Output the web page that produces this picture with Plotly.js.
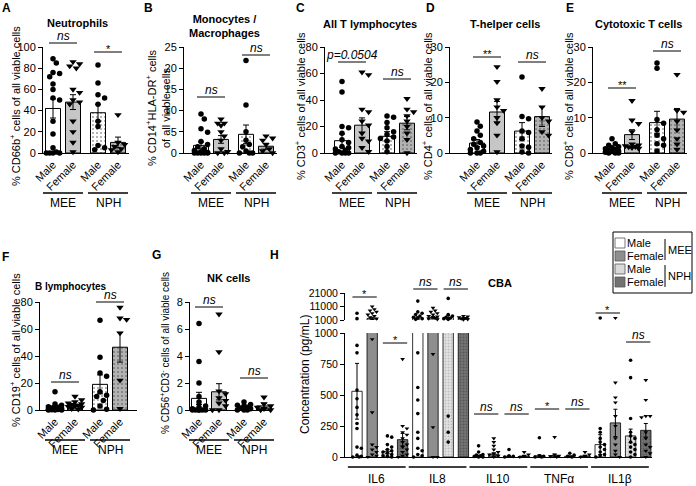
<!DOCTYPE html>
<html><head><meta charset="utf-8">
<script src="https://cdn.plot.ly/plotly-3.0.1.min.js"></script>
<style>html,body{margin:0;padding:0;background:#fff}#chart{width:696px;height:486px}</style>
</head><body><div id="chart"></div>
<script>
// ================= DATA =================
const sexLabels = ['Male', 'Female', 'Male', 'Female'];
const cohortLabels = ['MEE', 'NPH'];

// A  Neutrophils (% CD66b+)
const neutroMean = [42, 48, 38, 10];
const neutroSem = [9, 7, 8, 5];
const neutroMeeMale = [89, 85, 76, 75, 72, 65, 60, 52, 50, 30, 18, 5, 1, 0, 0, 0, 0];
const neutroMeeFemale = [86, 84, 82, 80, 60, 57, 50, 48, 46, 30, 20, 10, 1];
const neutroNphMale = [83, 66, 55, 52, 46, 30, 25, 7, 5, 3];
const neutroNphFemale = [36, 10, 8, 6, 4, 3, 1];

// B  Monocytes / Macrophages (% CD14+HLA-DR+)
const monoMean = [1.8, 3.2, 4.4, 1.6];
const monoSem = [0.8, 0.9, 2.2, 0.7];
const monoMeeMale = [9.2, 8, 5.7, 4.9, 2.7, 2, 1.5, 1, 0.6, 0.3, 0.1, 0, 0, 0, 0, 0];
const monoMeeFemale = [8, 7, 7, 6.5, 5, 4, 3, 1, 0.3, 0, 0];
const monoNphMale = [21.8, 11.3, 5, 3, 2, 1.5, 0.5, 0, 0, 0];
const monoNphFemale = [4, 3.5, 3, 2, 1, 0.5, 0];

// C  All T lymphocytes (% CD3+)
const tcellMean = [9.3, 21, 12.6, 22.5];
const tcellSem = [5, 5.5, 3.5, 5];
const tcellMeeMale = [54, 46, 20, 19, 15, 10, 8, 5, 4, 3, 2, 1, 0, 0, 0, 0];
const tcellMeeFemale = [61, 59, 33, 31, 24, 21, 15, 11, 9, 4, 1];
const tcellNphMale = [28, 27, 23, 19, 16, 14, 12, 11, 9, 5, 1];
const tcellNphFemale = [41, 33, 31, 28, 24, 20, 15, 10, 0];

// D  T-helper cells (% CD4+)
const thMean = [2.8, 11.6, 6.2, 10.3];
const thSem = [1, 3, 2.4, 2.8];
const thMeeMale = [8.8, 7.6, 6.2, 5, 4, 3, 2.5, 2, 1.5, 1, 0.5, 0, 0, 0];
const thMeeFemale = [24.4, 20.2, 15, 13, 12, 10, 8.5, 5, 0.3];
const thNphMale = [21.5, 10.3, 9.7, 6.2, 5.8, 4, 2, 1.6, 0.3, 0];
const thNphFemale = [18.2, 13, 10, 9, 6, 5];

// E  Cytotoxic T cells (% CD8+)
const ctlMean = [0.9, 5.2, 8.6, 9.6];
const ctlSem = [0.4, 1.4, 3.2, 3];
const ctlMeeMale = [4, 2.6, 2.2, 1.8, 1.5, 1.2, 1, 0.8, 0.6, 0.4, 0.2, 0, 0, 0];
const ctlMeeFemale = [14.8, 9.3, 8.3, 6, 2.5, 2.2, 2, 1.8, 1.7, 1.5, 1.3];
const ctlNphMale = [25.5, 24, 9.5, 8.4, 6.6, 5, 4, 2.6, 2.2, 0.6];
const ctlNphFemale = [22.2, 12, 11.5, 9, 6.5, 4, 2.5, 1];

// F  B lymphocytes (% CD19+)
const bcellMean = [2, 3.3, 19, 46.5];
const bcellSem = [1.2, 1, 7, 11];
const bcellMeeMale = [13.5, 4.5, 3.5, 2.5, 2, 1.5, 1.2, 1, 0.6, 0.4, 0.2, 0, 0, 0];
const bcellMeeFemale = [10, 7.5, 6, 5, 4.5, 4, 3.5, 3, 2.5, 2, 1, 0.5];
const bcellNphMale = [66.5, 39, 27.5, 25, 13.5, 11, 10, 7, 3, 0.5, 0];
const bcellNphFemale = [76, 68, 67, 57, 22, 1];

// G  NK cells (% CD56+CD3-)
const nkMean = [0.86, 1.35, 0.12, 0.3];
const nkSem = [0.45, 0.6, 0.07, 0.2];
const nkMeeMale = [6.4, 3.6, 2, 1, 0.6, 0.3, 0.2, 0.1, 0, 0, 0, 0, 0, 0];
const nkMeeFemale = [7.1, 4.3, 1.4, 1.2, 0.9, 0.7, 0.5, 0.3, 0, 0];
const nkNphMale = [0.6, 0.4, 0.35, 0.3, 0.2, 0.15, 0.1, 0, 0, 0];
const nkNphFemale = [0.95, 0.45, 0.3, 0.2, 0.1, 0, 0];

// H  CBA (pg/mL)
const cbaCytokines = ['IL6', 'IL8', 'IL10', 'TNFα', 'IL1β'];
const cbaLowTicks = [0, 250, 500, 750, 1000];
const cbaHighTicks = [1000, 11000, 21000];
const cbaMeeMaleMean = [530, 2500, 10, 10, 100];
const cbaMeeFemaleMean = [2200, 3000, 22, 12, 275];
const cbaNphMaleMean = [45, 2800, 6, 6, 170];
const cbaNphFemaleMean = [140, 2300, 8, 9, 215];
const cbaMeeMaleSem = [225, 900, 5, 8, 80];
const cbaMeeFemaleSem = [800, 700, 8, 10, 110];
const cbaNphMaleSem = [15, 1500, 4, 3, 55];
const cbaNphFemaleSem = [50, 400, 4, 4, 55];

const il6MeeMale = [6000, 2000, 900, 840, 540, 470, 400, 340, 270, 230, 80, 70, 15, 5, 0, 0];
const il6MeeFemale = [11000, 9000, 8000, 7000, 6000, 5000, 4000, 3000, 2000, 950, 360, 100, 80, 60, 40, 20, 10, 0];
const il6NphMale = [170, 160, 100, 80, 60, 50, 40, 30, 20, 10, 5, 0];
const il6NphFemale = [790, 250, 230, 200, 180, 150, 120, 100, 80, 60, 40, 20, 10, 0];
const il8MeeMale = [15000, 7000, 6000, 5000, 4000, 3000, 2500, 2000, 1500, 840, 560, 460, 350, 200, 150, 70, 50, 20, 10, 0];
const il8MeeFemale = [10000, 8000, 7000, 6000, 5000, 4000, 3500, 3000, 2500, 2000, 1500, 830, 240, 0, 0];
const il8NphMale = [17000, 5000, 4000, 3000, 2500, 2000, 1500, 330, 200, 120];
const il8NphFemale = [4000, 3500, 3000, 2500, 2000, 1500, 1200];
const il10MeeMale = [90, 40, 20, 15, 10, 5, 0, 0];
const il10MeeFemale = [150, 120, 90, 60, 40, 30, 20, 10, 0];
const il10NphMale = [60, 10, 5, 0];
const il10NphFemale = [40, 20, 10, 0];
const tnfMeeMale = [155, 10, 5, 0, 0];
const tnfMeeFemale = [160, 20, 10, 5, 0];
const tnfNphMale = [30, 15, 5, 0];
const tnfNphFemale = [40, 20, 10, 0];
const il1bMeeMale = [2500, 230, 200, 150, 120, 100, 80, 60, 40, 20, 10, 0];
const il1bMeeFemale = [2500, 600, 480, 440, 330, 250, 150, 100, 50, 20, 0];
const il1bNphMale = [780, 640, 310, 200, 170, 150, 120, 100, 80, 60, 40, 20, 0];
const il1bNphFemale = [620, 460, 330, 330, 320, 200, 150, 100, 80, 50, 30, 0];

// ================= RENDERING =================
const W = 696, H = 486;
const FONT = 'Arial, "Liberation Sans", Helvetica, sans-serif';
const PX = p => p / W, PY = p => 1 - p / H;
const catPos = [0, 1, 2.25, 3.25];

const traces = [];
const layout = {
  width: W, height: H, margin: {l: 0, r: 0, t: 0, b: 0},
  paper_bgcolor: '#fff', plot_bgcolor: 'rgba(0,0,0,0)', showlegend: false,
  font: {family: FONT, size: 11, color: '#000'},
  annotations: [], shapes: [], barmode: 'overlay'
};

function ann(text, x, y, o) {
  o = o || {};
  return {text, x: PX(x), y: PY(y), xref: 'paper', yref: 'paper', showarrow: false,
    xanchor: o.xanchor || 'center', yanchor: o.yanchor || 'middle', textangle: o.angle || 0,
    align: o.align || 'center',
    font: {family: FONT, size: o.size || 11, color: '#000', weight: o.bold ? 'bold' : 'normal', style: o.italic ? 'italic' : 'normal'}};
}
function line(x0, y0, x1, y1, w) {
  return {type: 'line', xref: 'paper', yref: 'paper', x0: PX(x0), y0: PY(y0), x1: PX(x1), y1: PY(y1),
    line: {color: '#000', width: w || 1}};
}

// beeswarm style horizontal spreading (pixel space), returns data x
function swarm(vals, center, unitPx, pxPerVal, diam, maxHalf) {
  const idx = vals.map((v, i) => i).sort((a, b) => vals[b] - vals[a]);
  const placed = [], out = new Array(vals.length);
  const step = diam * 0.6;
  const cands = [0];
  for (let k = 1; k * step <= maxHalf; k++) { cands.push(k * step, -k * step); }
  idx.forEach((i) => {
    const y = vals[i] * pxPerVal;
    let best = null, bestD = -1;
    for (const c of cands) {
      let md = Infinity;
      for (const p of placed) { md = Math.min(md, Math.hypot(p.x - c, p.y - y)); }
      if (md >= diam * 0.95) { best = c; bestD = md; break; }
      if (md > bestD) { bestD = md; best = c; }
    }
    placed.push({x: best, y});
    out[i] = center + best / unitPx;
  });
  return out;
}

const barFill = ['#ffffff', '#c6c6c6', '#ffffff', '#b2b2b2'];
const barPat = ['', '', '.', '.'];

const panels = [
  {letter: 'A', lx: 6, ly: 8, title: 'Neutrophils', tx: 77, ty: 23, ytitle: '% CD66b<sup>+</sup> cells of all viable cells', ytx: 15, yty: 106,
   x0: 43, c0: 53, x1: 129, unit: 20, yTop: 47, yBot: 153, yMax: 100, yTicks: [0, 20, 40, 60, 80, 100],
   means: neutroMean, sems: neutroSem, pts: [neutroMeeMale, neutroMeeFemale, neutroNphMale, neutroNphFemale],
   sig: [[43, 'ns'], [52, '*']], gy: 193},
  {letter: 'B', lx: 148, ly: 8, title: 'Monocytes /<br>Macrophages', tx: 224, ty: 26, ytitle: '% CD14<sup>+</sup>HLA-DR<sup>+</sup> cells<br>of all viable cells', ytx: 158, yty: 108,
   x0: 184, c0: 201, x1: 277, unit: 20, yTop: 47, yBot: 153, yMax: 25, yTicks: [0, 5, 10, 15, 20, 25],
   means: monoMean, sems: monoSem, pts: [monoMeeMale, monoMeeFemale, monoNphMale, monoNphFemale],
   sig: [[97, 'ns'], [55, 'ns']], gy: 193},
  {letter: 'C', lx: 300, ly: 8, title: 'All T lymphocytes', tx: 370, ty: 24, ytitle: '% CD3<sup>+</sup> cells of all viable cells', ytx: 300, yty: 106,
   x0: 325, c0: 342, x1: 417, unit: 20, yTop: 47, yBot: 153, yMax: 80, yTicks: [0, 20, 40, 60, 80],
   means: tcellMean, sems: tcellSem, pts: [tcellMeeMale, tcellMeeFemale, tcellNphMale, tcellNphFemale],
   sig: [[62, 'p=0.0504'], [79, 'ns']], gy: 193},
  {letter: 'D', lx: 430, ly: 8, title: 'T-helper cells', tx: 505, ty: 24, ytitle: '% CD4<sup>+</sup> cells of all viable cells', ytx: 427, yty: 106,
   x0: 450, c0: 477, x1: 552, unit: 20, yTop: 47, yBot: 153, yMax: 30, yTicks: [0, 10, 20, 30],
   means: thMean, sems: thSem, pts: [thMeeMale, thMeeFemale, thNphMale, thNphFemale],
   sig: [[57, '**'], [62, 'ns']], gy: 193},
  {letter: 'E', lx: 570, ly: 8, title: 'Cytotoxic T cells', tx: 638, ty: 24, ytitle: '% CD8<sup>+</sup> cells of all viable cells', ytx: 568, yty: 106,
   x0: 593, c0: 612, x1: 687, unit: 20, yTop: 47, yBot: 153, yMax: 30, yTicks: [0, 10, 20, 30],
   means: ctlMean, sems: ctlSem, pts: [ctlMeeMale, ctlMeeFemale, ctlNphMale, ctlNphFemale],
   sig: [[88, '**'], [51, 'ns']], gy: 193},
  {letter: 'F', lx: 5, ly: 257, title: 'B lymphocytes', tx: 71, ty: 286, tsize: 10, ytitle: '% CD19<sup>+</sup> cells of all viable cells', ytx: 15, yty: 350,
   x0: 40, c0: 55, x1: 137, unit: 20, yTop: 302, yBot: 410, yMax: 80, yTicks: [0, 20, 40, 60, 80],
   means: bcellMean, sems: bcellSem, pts: [bcellMeeMale, bcellMeeFemale, bcellNphMale, bcellNphFemale],
   sig: [[382, 'ns'], [302, 'ns']], gy: 440},
  {letter: 'G', lx: 156, ly: 255, title: 'NK cells', tx: 228, ty: 278, ytitle: '% CD56<sup>+</sup>CD3<sup>-</sup> cells of all viable cells', ytx: 165, yty: 353,
   x0: 190, c0: 199, x1: 272, unit: 20, yTop: 302, yBot: 410, yMax: 8, yTicks: [0, 2, 4, 6, 8],
   means: nkMean, sems: nkSem, pts: [nkMeeMale, nkMeeFemale, nkNphMale, nkNphFemale],
   sig: [[307, 'ns'], [378, 'ns']], gy: 440, ysize: 10}
];

panels.forEach((p, n) => {
  const i = n + 1, sfx = i === 1 ? '' : String(i);
  const xa = 'x' + sfx, ya = 'y' + sfx;
  const r0 = (p.x0 - p.c0) / p.unit, r1 = (p.x1 - p.c0) / p.unit;
  const toPx = v => p.c0 + v * p.unit;
  layout['xaxis' + sfx] = {domain: [PX(p.x0), PX(p.x1)], range: [r0, r1], anchor: ya,
    showline: true, linecolor: '#000', linewidth: 1, showgrid: false, zeroline: false, ticks: '',
    tickvals: catPos, ticktext: sexLabels, tickangle: -45, tickfont: {family: FONT, size: 11, color: '#000'}, fixedrange: true};
  layout['yaxis' + sfx] = {domain: [PY(p.yBot), PY(p.yTop)], range: [0, p.yMax], anchor: xa,
    showline: true, linecolor: '#000', linewidth: 1, showgrid: false, zeroline: false,
    ticks: 'outside', ticklen: 4, tickwidth: 1, tickcolor: '#000', tickvals: p.yTicks,
    tickfont: {family: FONT, size: 11, color: '#000'}, fixedrange: true};
  traces.push({type: 'bar', x: catPos, y: p.means, width: 0.75, xaxis: xa, yaxis: ya,
    marker: {color: barFill, line: {color: '#000', width: 1},
      pattern: {shape: barPat, fillmode: 'overlay', fgcolor: '#000', size: 4, solidity: 0.22}},
    error_y: {type: 'data', array: p.sems, visible: true, color: '#000', thickness: 1, width: 3}});
  const pxPerVal = (p.yBot - p.yTop) / p.yMax;
  p.pts.forEach((vals, k) => {
    traces.push({type: 'scatter', mode: 'markers', xaxis: xa, yaxis: ya, cliponaxis: false,
      x: swarm(vals, catPos[k], p.unit, pxPerVal, 5.5, 9), y: vals,
      marker: {symbol: k % 2 ? 'triangle-down' : 'circle', size: k % 2 ? 6.5 : 5.5, color: '#000', line: {width: 0}}});
  });
  layout.annotations.push(ann(p.letter, p.lx, p.ly, {bold: true, size: 12}));
  layout.annotations.push(ann(p.title, p.tx, p.ty, {bold: true, size: p.tsize || 11}));
  layout.annotations.push(ann(p.ytitle, p.ytx, p.yty, {angle: -90, size: p.ysize || 11}));
  [[0, 1], [2, 3]].forEach((pair, j) => {
    const [ly, txt] = p.sig[j];
    const a = toPx(catPos[pair[0]] - 0.2), b = toPx(catPos[pair[1]] + 0.2);
    layout.shapes.push(line(a, ly, b, ly, 1));
    const star = txt.indexOf('*') === 0;
    layout.annotations.push(ann(txt, (a + b) / 2, ly - (star ? 3 : 7), {italic: !star, size: star ? 11 : 12}));
  });
  [[0, 1], [2, 3]].forEach((pair, j) => {
    const a = toPx(catPos[pair[0]] - 0.5), b = toPx(catPos[pair[1]] + 0.5);
    layout.shapes.push(line(a, p.gy, b, p.gy, 1.5));
    layout.annotations.push(ann(cohortLabels[j], (a + b) / 2, p.gy + 10, {size: 12}));
  });
});

// ---------- H: CBA (broken axis) ----------
{
  const h = {x0: 345, c0: 357, x1: 652, unit: 15.2, loTop: 333, loBot: 457, loMax: 1000,
             upTop: 293, upBot: 320, upMin: 1000, upMax: 21000};
  const toPx = v => h.c0 + v * h.unit;
  const r0 = (h.x0 - h.c0) / h.unit, r1 = (h.x1 - h.c0) / h.unit;
  layout.xaxis8 = {domain: [PX(h.x0), PX(h.x1)], range: [r0, r1], anchor: 'y8', showline: true, linecolor: '#000',
    linewidth: 1, showgrid: false, zeroline: false, ticks: '', showticklabels: false, fixedrange: true};
  const yax = (dom, rng, tv) => ({domain: dom, range: rng, anchor: 'x8', showline: true, linecolor: '#000', linewidth: 1,
    showgrid: false, zeroline: false, ticks: 'outside', ticklen: 4, tickwidth: 1, tickcolor: '#000',
    tickvals: tv, ticktext: tv.map(String),
    tickfont: {family: FONT, size: 10.5, color: '#000'}, fixedrange: true});
  layout.yaxis8 = yax([PY(h.loBot), PY(h.loTop)], [0, h.loMax], cbaLowTicks);
  layout.yaxis9 = yax([PY(h.upBot), PY(h.upTop)], [h.upMin, h.upMax], cbaHighTicks);

  const groupMeans = [cbaMeeMaleMean, cbaMeeFemaleMean, cbaNphMaleMean, cbaNphFemaleMean];
  const groupSems = [cbaMeeMaleSem, cbaMeeFemaleSem, cbaNphMaleSem, cbaNphFemaleSem];
  const pts = [
    [il6MeeMale, il6MeeFemale, il6NphMale, il6NphFemale],
    [il8MeeMale, il8MeeFemale, il8NphMale, il8NphFemale],
    [il10MeeMale, il10MeeFemale, il10NphMale, il10NphFemale],
    [tnfMeeMale, tnfMeeFemale, tnfNphMale, tnfNphFemale],
    [il1bMeeMale, il1bMeeFemale, il1bNphMale, il1bNphFemale]
  ];
  const hFill = ['#ffffff', '#8e8e8e', '#e2e2e2', '#747474'];
  const hPat = ['', '', '.', '.'];
  const hFg = ['#000', '#000', '#9a9a9a', '#3a3a3a'];
  for (let k = 0; k < 4; k++) {
    const xs = cbaCytokines.map((c, g) => g * 4 + k);
    ['y8', 'y9'].forEach(ya => {
      traces.push({type: 'bar', x: xs, y: groupMeans[k], width: 0.68, xaxis: 'x8', yaxis: ya,
        marker: {color: hFill[k], line: {color: '#000', width: 0.8},
          pattern: {shape: hPat[k], fillmode: 'overlay', fgcolor: hFg[k], size: 3, solidity: 0.3}},
        error_y: {type: 'data', array: groupSems[k], visible: true, color: '#000', thickness: 1, width: 2}});
    });
  }
  const loPx = (h.loBot - h.loTop) / h.loMax, upPx = (h.upBot - h.upTop) / (h.upMax - h.upMin);
  pts.forEach((grp, g) => grp.forEach((vals, k) => {
    const lo = vals.filter(v => v <= 1000), up = vals.filter(v => v > 1000);
    const sym = k % 2 ? 'triangle-down' : 'circle';
    const mk = {symbol: sym, size: k % 2 ? 4.2 : 3.6, color: '#000', line: {width: 0}};
    if (lo.length) traces.push({type: 'scatter', mode: 'markers', xaxis: 'x8', yaxis: 'y8', cliponaxis: false,
      x: swarm(lo, g * 4 + k, h.unit, loPx, 3.6, 5), y: lo, marker: mk});
    if (up.length) traces.push({type: 'scatter', mode: 'markers', xaxis: 'x8', yaxis: 'y9', cliponaxis: false,
      x: swarm(up.map(v => v - 1000), g * 4 + k, h.unit, upPx, 3.6, 5), y: up, marker: mk});
  }));
  const hSig = [[0, 297, '*'], [2, 343, '*'], [4, 289, 'ns'], [6, 289, 'ns'], [8, 414, 'ns'], [10, 414, 'ns'],
                [12, 409, '*'], [14, 409, 'ns'], [16, 313, '*'], [18, 342, 'ns']];
  hSig.forEach(([s, ly, txt]) => {
    const a = toPx(s - 0.3), b = toPx(s + 1 + 0.3);
    layout.shapes.push(line(a, ly, b, ly, 1));
    const star = txt === '*';
    layout.annotations.push(ann(txt, (a + b) / 2, ly - (star ? 3 : 7), {italic: !star, size: star ? 11 : 12}));
  });
  cbaCytokines.forEach((c, g) => {
    const a = toPx(g * 4 - 0.6), b = toPx(g * 4 + 3.2);
    layout.shapes.push(line(a, 467, b, 467, 1.5));
    layout.annotations.push(ann(c, (a + b) / 2, 479, {size: 12}));
  });
  layout.annotations.push(ann('H', 274, 255, {bold: true, size: 12}));
  layout.annotations.push(ann('CBA', 500, 283, {bold: true, size: 11}));
  layout.annotations.push(ann('Concentration (pg/mL)', 305, 375, {angle: -90, size: 12}));

  // legend (manual)
  layout.shapes.push({type: 'rect', xref: 'paper', yref: 'paper', x0: PX(613), x1: PX(692), y0: PY(232), y1: PY(293),
    line: {color: '#000', width: 1}, fillcolor: '#fff'});
  const legY = [243, 256, 269, 282];
  const legFill = ['#ffffff', '#8e8e8e', '#dadada', '#727272'];
  legY.forEach((y, k) => {
    layout.shapes.push({type: 'rect', xref: 'paper', yref: 'paper', x0: PX(615), x1: PX(625), y0: PY(y + 5), y1: PY(y - 5),
      line: {color: '#555', width: 0.8}, fillcolor: legFill[k]});
    layout.annotations.push(ann(sexLabels[k], 625, y, {xanchor: 'left', size: 11}));
  });
  layout.shapes.push(line(665, 239, 665, 260, 1));
  layout.shapes.push(line(665, 265, 665, 287, 1));
  layout.annotations.push(ann(cohortLabels[0], 666, 250, {xanchor: 'left', size: 11}));
  layout.annotations.push(ann(cohortLabels[1], 666, 276, {xanchor: 'left', size: 11}));
}

Plotly.newPlot('chart', traces, layout, {staticPlot: true, displayModeBar: false});
</script>
</body></html>
